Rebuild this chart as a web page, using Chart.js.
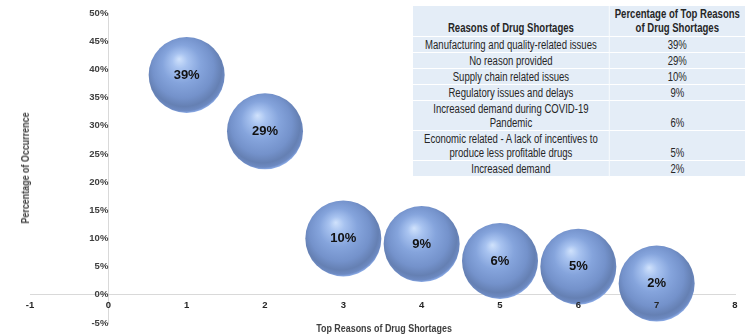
<!DOCTYPE html>
<html>
<head>
<meta charset="utf-8">
<script src="https://cdn.jsdelivr.net/npm/chart.js@4"></script>
<style>
  body { margin: 0; background: #fff; }
  #wrap { position: relative; width: 750px; height: 336px; overflow: hidden; font-family: "Liberation Sans", Arial, sans-serif; }
  #grafico { position: absolute; left: 0; top: 0; }
  .titulo-eixo { position: absolute; font-weight: bold; font-size: 10.5px; color: #404040; white-space: nowrap; }
  #titulo-x { left: 384px; top: 328px; transform: translate(-50%, -50%) scaleX(0.85); }
  #titulo-y { left: 25px; top: 168px; transform: translate(-50%, -50%) rotate(-90deg) scaleX(0.85); }
  #caixa-tabela { position: absolute; left: 413px; top: 6px; transform: scaleX(0.765); transform-origin: 0 0; }
  #tabela { width: 434px; border-collapse: collapse; background: #e4edf7; color: #262626; font-size: 12.5px; line-height: 14px; }
  #tabela th, #tabela td { padding: 0.5px 9px; text-align: center; border-bottom: 1px solid #fff; }
  #tabela th { font-weight: bold; vertical-align: bottom; height: 28px; padding: 1px 3px; }
  #tabela td:first-child, #tabela th:first-child { width: 238px; border-right: 1px solid #fff; }
  #tabela th:first-child { padding: 1px 9px; }
  #tabela td:last-child { vertical-align: bottom; }
</style>
</head>
<body>
<div id="wrap">
  <canvas id="grafico" width="750" height="336"></canvas>
  <div id="caixa-tabela">
    <table id="tabela">
      <thead><tr><th>Reasons of Drug Shortages</th><th>Percentage of Top Reasons of Drug Shortages</th></tr></thead>
      <tbody id="corpo-tabela"></tbody>
    </table>
  </div>
  <div class="titulo-eixo" id="titulo-x">Top Reasons of Drug Shortages</div>
  <div class="titulo-eixo" id="titulo-y">Percentage of Occurrence</div>
</div>
<script>
const motivos = [
    "Manufacturing and quality-related issues",
    "No reason provided",
    "Supply chain related issues",
    "Regulatory issues and delays",
    "Increased demand during COVID-19 Pandemic",
    "Economic related - A lack of incentives to produce less profitable drugs",
    "Increased demand"
]
const posicoes = [1, 2, 3, 4, 5, 6, 7]
const percentuais = [39, 29, 10, 9, 6, 5, 2]

const corpo = document.querySelector('#corpo-tabela')
motivos.forEach((motivo, i) => {
    const tr = document.createElement('tr')
    const td1 = document.createElement('td')
    td1.innerText = motivo
    const td2 = document.createElement('td')
    td2.innerText = `${percentuais[i]}%`
    tr.appendChild(td1)
    tr.appendChild(td2)
    corpo.appendChild(tr)
})

const RAIO = 38

// gradiente de esfera pra cada bolha
function corEsfera(ctx) {
    const chart = ctx.chart
    if (!chart.scales.x || ctx.raw == null) return '#7f9ed8'
    const cx = chart.scales.x.getPixelForValue(ctx.raw.x)
    const cy = chart.scales.y.getPixelForValue(ctx.raw.y)
    if (!isFinite(cx) || !isFinite(cy)) return '#7f9ed8'
    const g = chart.ctx.createRadialGradient(cx - 0.2 * RAIO, cy - 0.42 * RAIO, 0, cx - 0.05 * RAIO, cy - 0.12 * RAIO, 1.12 * RAIO)
    g.addColorStop(0, '#d0e2fc')
    g.addColorStop(0.18, '#a8c3f0')
    g.addColorStop(0.45, '#85a4dc')
    g.addColorStop(0.72, '#7492cb')
    g.addColorStop(0.88, '#6580b3')
    g.addColorStop(0.96, '#6d8ac2')
    g.addColorStop(1, '#8aaae6')
    return g
}

const rotulosBolhas = {
    id: 'rotulosBolhas',
    afterDatasetsDraw(chart) {
        const ctx = chart.ctx
        ctx.save()
        ctx.font = 'bold 13px "Liberation Sans", Arial, sans-serif'
        ctx.fillStyle = '#111'
        ctx.textAlign = 'center'
        ctx.textBaseline = 'middle'
        chart.getDatasetMeta(0).data.forEach((el, i) => {
            ctx.fillText(`${percentuais[i]}%`, el.x, el.y)
        })
        ctx.restore()
    }
}

const fonteTick = { family: '"Liberation Sans", Arial, sans-serif', size: 9.5, weight: 'bold' }

let myChartBolhas = new Chart(
    document.getElementById("grafico"),
    {
        type: "bubble",
        data: {
            datasets: [
                {
                    label: "",
                    data: posicoes.map((x, i) => ({ x: x, y: percentuais[i] })),
                    radius: RAIO,
                    hoverRadius: 0,
                    borderWidth: 0,
                    clip: false,
                    backgroundColor: corEsfera
                }
            ]
        },
        options: {
            responsive: false,
            animation: false,
            events: [],
            layout: { autoPadding: false, padding: { left: 30, right: 15, top: 13, bottom: 13 } },
            plugins: {
                legend: { display: false },
                tooltip: { enabled: false }
            },
            scales: {
                x: {
                    type: 'linear',
                    position: { y: 0 },
                    min: -1,
                    max: 8,
                    grid: { display: false, drawTicks: false },
                    border: { color: '#d9d9d9' },
                    ticks: { stepSize: 1, padding: 5, color: '#262626', font: fonteTick, z: 1 }
                },
                y: {
                    position: { x: 0 },
                    min: -5,
                    max: 50,
                    grid: { display: false, drawTicks: false },
                    border: { color: '#d9d9d9' },
                    ticks: { stepSize: 5, padding: 7, color: '#404040', font: fonteTick, callback: v => `${v}%` }
                }
            }
        },
        plugins: [rotulosBolhas]
    }
)
</script>
</body>
</html>
